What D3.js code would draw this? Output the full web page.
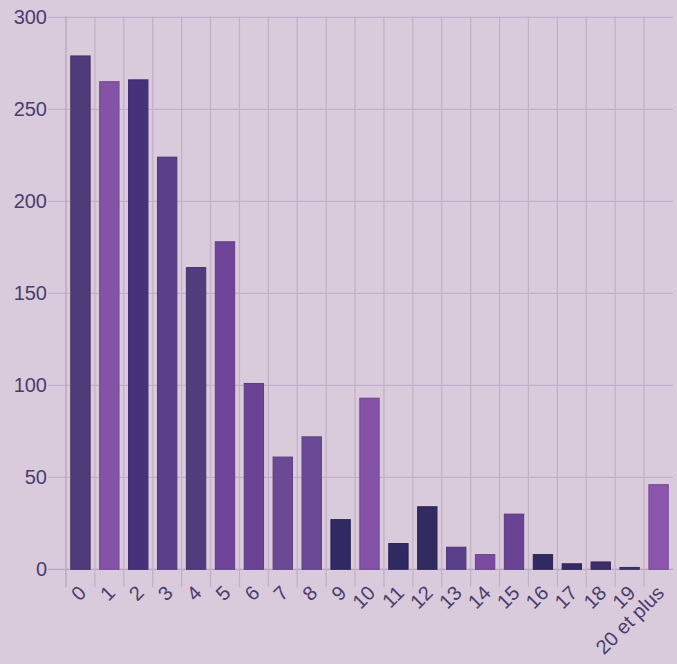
<!DOCTYPE html>
<html>
<head>
<meta charset="utf-8">
<script src="https://cdn.jsdelivr.net/npm/d3@7"></script>
<style>
  html, body { margin: 0; padding: 0; background: #dacbdc; }
  svg { display: block; }
</style>
</head>
<body>
<svg id="chart" width="677" height="664"></svg>
<script>
const categories = ["0","1","2","3","4","5","6","7","8","9","10","11","12","13","14","15","16","17","18","19","20 et plus"];
const values = [279, 265, 266, 224, 164, 178, 101, 61, 72, 27, 93, 14, 34, 12, 8, 30, 8, 3, 4, 1, 46];
const colors = ["#4f3b78","#8453a6","#45327a","#5b3f8a","#513d7e","#6e459a","#6a4492","#6a4a92","#6a4a96","#312a62","#8452a6","#302a62","#312b60","#5a3f8a","#7a4ba0","#6a4494","#312a62","#332a64","#3c2e6a","#403070","#8a55aa"];
const yTicks = [0, 50, 100, 150, 200, 250, 300];

(function () {
const svg = d3.select("#chart");
const mLeft = 66, mRight = 673, mTop = 17.3, mBottom = 569.3;
const tickLen = 18;

const x = d3.scaleBand().domain(categories).range([mLeft, mRight]).paddingInner(0.33).paddingOuter(0.165);
const y = d3.scaleLinear().domain([0, 300]).range([mBottom, mTop]);
const step = x.step();

const grid = svg.append("g");
grid.selectAll("line.h").data(yTicks).enter().append("line")
  .attr("x1", mLeft - tickLen).attr("x2", mRight)
  .attr("y1", d => y(d)).attr("y2", d => y(d))
  .attr("stroke", d => d === 0 ? "#b6a2bb" : "#c4b1c7").attr("stroke-width", 1.3);
grid.selectAll("line.v").data(categories).enter().append("line")
  .attr("x1", (d, i) => mLeft + i * step).attr("x2", (d, i) => mLeft + i * step)
  .attr("y1", mTop - 1).attr("y2", mBottom + tickLen)
  .attr("stroke", (d, i) => i === 0 ? "#b8a5bd" : "#c4b1c7").attr("stroke-width", 1.3);

svg.append("g").selectAll("rect").data(values).enter().append("rect")
  .attr("x", (d, i) => x(categories[i]))
  .attr("width", x.bandwidth())
  .attr("y", d => y(d))
  .attr("height", d => y(0) - y(d))
  .attr("fill", (d, i) => colors[i])
  .attr("stroke", (d, i) => d3.color(colors[i]).darker(0.4))
  .attr("stroke-width", 1);

const textColor = "#4a3d6e";
svg.append("g").selectAll("text").data(yTicks).enter().append("text")
  .attr("x", 47).attr("y", d => y(d))
  .attr("dy", "0.35em")
  .attr("text-anchor", "end")
  .attr("font-family", "Liberation Sans, Arial, sans-serif")
  .attr("font-size", 20)
  .attr("fill", textColor)
  .text(d => d);

svg.append("g").selectAll("text").data(categories).enter().append("text")
  .attr("transform", d => `translate(${x(d) + x.bandwidth() / 2 - 3},${mBottom + 15}) rotate(-45)`)
  .attr("text-anchor", "end")
  .attr("dy", "0.7em")
  .attr("font-family", "Liberation Sans, Arial, sans-serif")
  .attr("font-size", 20)
  .attr("fill", textColor)
  .text(d => d);
})();
</script>
</body>
</html>
